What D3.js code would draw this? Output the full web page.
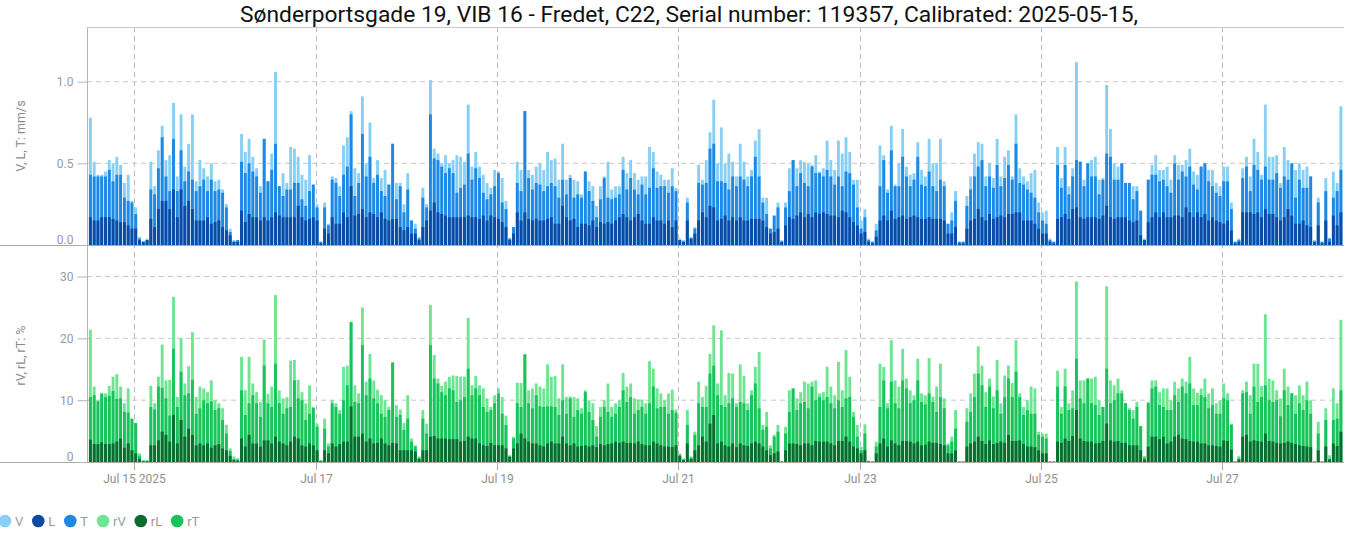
<!DOCTYPE html>
<html>
<head>
<meta charset="utf-8">
<script src="https://cdn.jsdelivr.net/npm/d3@7"></script>
<style>
  html, body { margin: 0; padding: 0; background: #fff; }
  svg { display: block; font-family: Roboto, "Noto Sans", "DejaVu Sans", sans-serif; }
</style>
</head>
<body>
<svg id="chart" width="1354" height="535"></svg>
<script>
// ---- chart text ----
const chartTitle = "Sønderportsgade 19, VIB 16 - Fredet, C22, Serial number: 119357, Calibrated: 2025-05-15,";
const topAxisTitle = "V, L, T: mm/s";
const bottomAxisTitle = "rV, rL, rT: %";

// ---- hourly readings, first reading 2025-07-14 12:00 ----
const firstReading = Date.UTC(2025, 6, 14, 12);

const V = [
  .78,.51,.43,.43,.45,.52,.50,.54,.49,.38,.43,.27,
  .23,.05,.02,.04,.51,.36,.58,.73,.52,.55,.87,.42,.80,.48,.62,.80,.39,.52,.47,.42,.50,.39,.40,.34,
  .25,.10,.03,.03,.68,.57,.65,.54,.47,.36,.65,.39,.56,1.06,.36,.44,.38,.60,.59,.54,.43,.40,.55,.37,
  .25,.02,.26,.13,.42,.41,.36,.61,.66,.82,.47,.44,.91,.50,.75,.41,.52,.41,.46,.37,.62,.38,.38,.25,
  .44,.15,.13,.05,.35,.25,1.01,.59,.56,.50,.55,.50,.52,.55,.54,.51,.86,.48,.57,.48,.43,.38,.35,.46,
  .45,.41,.27,.04,.11,.51,.46,.82,.46,.43,.48,.50,.46,.57,.52,.53,.40,.62,.40,.43,.40,.39,.31,.45,
  .39,.36,.24,.36,.42,.51,.34,.36,.36,.54,.44,.52,.44,.40,.42,.42,.60,.57,.45,.43,.40,.40,.47,.35,
  .04,.03,.29,.05,.11,.49,.40,.52,.69,.89,.50,.72,.50,.56,.51,.42,.62,.51,.42,.46,.64,.71,.29,.29,
  .10,.18,.26,.03,.26,.47,.52,.47,.52,.51,.50,.49,.55,.45,.47,.64,.52,.46,.64,.56,.66,.57,.40,.40,
  .15,.22,.04,.02,.13,.61,.55,.34,.73,.37,.50,.71,.48,.43,.44,.63,.46,.42,.65,.50,.50,.65,.39,.13,
  .20,.33,.02,.02,.30,.42,.56,.63,.62,.42,.50,.41,.65,.42,.54,.58,.42,.80,.47,.42,.39,.44,.46,.26,
  .20,.21,.04,.02,.60,.41,.60,.36,.47,1.12,.51,.40,.50,.52,.54,.40,.41,.98,.71,.50,.48,.50,.38,.38,
  .36,.36,.21,.04,.40,.49,.55,.46,.46,.48,.40,.55,.49,.49,.52,.59,.45,.43,.48,.50,.46,.46,.38,.36,
  .48,.48,.26,.02,.04,.47,.54,.42,.65,.57,.43,.86,.54,.54,.55,.38,.60,.52,.50,.46,.50,.46,.48,.42,
  .03,.29,.02,.41,.04,.45,.38,.85
];
const T = [
  .43,.42,.42,.42,.42,.46,.39,.43,.43,.29,.27,.26,
  .19,.04,.02,.03,.34,.31,.47,.66,.42,.33,.65,.33,.58,.39,.45,.40,.33,.36,.40,.33,.40,.33,.34,.32,
  .23,.08,.02,.03,.51,.44,.50,.45,.42,.32,.65,.39,.46,.62,.36,.30,.34,.34,.38,.38,.28,.24,.33,.37,
  .23,.02,.23,.12,.40,.38,.30,.43,.48,.80,.30,.38,.68,.42,.54,.38,.43,.33,.30,.37,.62,.28,.36,.20,
  .34,.15,.10,.04,.29,.23,.80,.53,.52,.48,.44,.47,.44,.32,.35,.37,.56,.40,.47,.41,.32,.28,.31,.36,
  .44,.26,.22,.04,.11,.38,.33,.82,.41,.34,.38,.37,.33,.36,.38,.36,.29,.40,.31,.41,.29,.31,.29,.45,
  .33,.27,.17,.28,.41,.29,.28,.29,.31,.46,.34,.41,.34,.31,.37,.31,.35,.47,.35,.36,.36,.32,.36,.33,
  .03,.02,.26,.04,.10,.38,.37,.38,.59,.62,.39,.39,.38,.34,.42,.36,.42,.40,.36,.42,.54,.42,.26,.19,
  .10,.18,.23,.02,.23,.33,.52,.36,.44,.38,.36,.48,.44,.44,.42,.46,.42,.37,.42,.36,.45,.44,.37,.23,
  .10,.17,.03,.02,.09,.36,.52,.32,.58,.36,.36,.54,.42,.36,.40,.54,.37,.36,.45,.36,.33,.40,.36,.13,
  .15,.27,.02,.02,.24,.34,.42,.48,.52,.36,.42,.35,.49,.36,.41,.49,.40,.62,.38,.37,.34,.32,.29,.20,
  .15,.13,.03,.02,.49,.35,.49,.31,.42,.52,.51,.36,.50,.42,.42,.31,.40,.56,.54,.40,.40,.50,.38,.38,
  .28,.33,.21,.03,.40,.43,.43,.39,.40,.36,.32,.50,.40,.45,.42,.48,.37,.34,.48,.50,.39,.36,.32,.30,
  .39,.39,.22,.02,.03,.41,.48,.33,.49,.46,.40,.48,.40,.40,.44,.35,.42,.40,.50,.29,.40,.35,.35,.42,
  .02,.26,.02,.33,.04,.29,.33,.46
];
const L = [
  .17,.15,.15,.17,.17,.17,.16,.15,.14,.14,.12,.10,
  .10,.03,.02,.03,.16,.11,.22,.27,.27,.22,.34,.17,.34,.24,.27,.22,.15,.15,.15,.17,.13,.14,.15,.11,
  .09,.06,.02,.02,.21,.14,.19,.17,.17,.15,.17,.15,.17,.20,.18,.17,.17,.17,.17,.24,.17,.15,.16,.17,
  .15,.01,.10,.07,.17,.13,.13,.20,.17,.36,.18,.19,.22,.17,.20,.19,.17,.20,.16,.15,.16,.16,.11,.09,
  .11,.07,.07,.03,.11,.15,.21,.26,.20,.19,.18,.17,.17,.17,.17,.17,.18,.17,.17,.16,.18,.15,.18,.17,
  .16,.14,.11,.03,.07,.20,.15,.20,.16,.15,.16,.15,.15,.16,.17,.13,.13,.24,.17,.15,.16,.11,.13,.13,
  .12,.15,.11,.14,.13,.14,.13,.15,.17,.19,.17,.15,.17,.19,.15,.13,.13,.17,.15,.15,.13,.15,.11,.15,
  .03,.02,.15,.04,.07,.15,.20,.17,.24,.23,.15,.16,.18,.15,.17,.15,.17,.15,.15,.16,.16,.16,.15,.11,
  .07,.08,.10,.02,.12,.17,.16,.18,.20,.17,.19,.17,.20,.19,.20,.19,.18,.18,.17,.21,.20,.17,.14,.12,
  .07,.08,.02,.01,.05,.15,.18,.15,.21,.16,.17,.18,.16,.17,.18,.17,.16,.16,.17,.16,.16,.16,.15,.07,
  .07,.11,.01,.01,.10,.15,.16,.22,.17,.15,.19,.16,.17,.18,.17,.19,.19,.20,.20,.15,.15,.15,.13,.10,
  .07,.07,.02,.01,.16,.17,.19,.16,.22,.23,.17,.16,.17,.17,.17,.16,.18,.24,.17,.16,.17,.17,.17,.15,
  .14,.15,.06,.03,.14,.17,.20,.17,.20,.17,.17,.18,.18,.17,.23,.20,.17,.20,.17,.19,.15,.17,.15,.14,
  .13,.15,.09,.01,.02,.20,.20,.20,.19,.20,.17,.22,.19,.19,.17,.15,.17,.22,.18,.13,.13,.15,.12,.11,
  .02,.12,.01,.15,.02,.18,.12,.20
];
const rV = [
  21.4,12.2,10.0,11.2,11.1,12.3,13.8,14.2,12.2,9.5,11.9,7.0,
  6.3,1.4,0.3,0.3,12.3,9.5,13.8,19.0,13.2,13.3,26.7,10.5,20.0,12.7,15.5,21.0,10.5,12.2,11.9,11.3,13.2,10.0,9.5,8.7,
  6.0,2.2,0.9,0.6,17.0,11.6,17.0,12.7,11.3,9.7,19.8,11.0,12.2,27.0,11.6,10.3,10.5,16.4,16.5,13.3,11.3,9.5,12.4,8.8,
  6.2,0.3,7.0,3.0,10.0,9.5,8.4,15.4,15.6,22.7,12.4,11.1,25.0,13.0,17.5,13.2,11.7,10.8,10.0,8.9,16.1,9.2,8.5,6.3,
  10.8,3.8,2.7,0.9,8.4,6.2,25.4,17.3,13.5,12.3,13.0,13.8,14.0,13.9,13.8,13.8,23.3,12.4,13.9,12.4,11.9,10.3,8.9,10.8,
  11.9,10.5,7.5,1.1,4.1,12.8,12.8,17.4,11.6,11.9,12.7,12.2,11.9,15.8,13.8,13.9,10.3,15.8,10.5,10.6,10.5,10.3,8.7,11.6,
  10.0,9.5,5.8,8.9,10.0,12.7,8.9,9.5,10.0,14.4,12.2,12.7,10.3,10.1,10.1,9.5,16.3,15.1,11.9,11.1,10.0,11.1,11.7,8.5,
  1.4,0.6,8.4,0.9,4.9,13.0,10.5,12.3,17.5,22.1,12.7,21.3,10.8,14.4,14.3,9.5,15.8,13.9,9.5,11.6,15.4,17.8,6.0,8.1,
  2.7,4.4,6.0,0.1,5.7,11.6,11.9,10.3,11.3,13.0,12.7,13.0,13.2,11.1,11.3,15.4,12.2,10.8,16.2,11.6,18.1,13.8,8.1,6.0,
  2.5,6.1,0.2,0.1,3.3,15.9,15.4,9.5,19.7,13.2,12.2,18.3,13.5,11.6,10.8,16.7,11.1,10.8,16.8,10.6,12.2,15.9,10.3,3.0,
  4.1,8.4,0.1,0.1,8.7,11.1,14.3,18.7,15.6,11.3,13.5,10.6,16.5,9.5,14.0,15.6,12.8,19.7,11.1,8.9,10.0,12.2,11.9,4.9,
  4.6,4.6,0.1,0.1,14.8,8.9,15.1,9.5,11.6,29.2,13.2,13.2,13.5,13.5,13.8,10.0,8.9,28.4,13.2,12.4,13.5,11.6,9.5,8.7,
  8.4,9.7,5.8,1.0,9.7,13.2,13.2,11.3,11.9,11.9,10.0,13.0,11.9,13.5,13.0,17.0,11.9,11.2,11.9,13.5,11.1,11.9,9.5,10.0,
  12.7,11.1,6.2,0.1,1.0,11.6,13.0,10.8,15.9,15.9,12.3,23.9,13.5,13.2,11.6,10.3,15.1,12.2,11.1,10.8,12.4,10.8,13.0,10.0,
  0.1,6.5,0.1,8.7,1.1,11.9,9.5,23.0
];
const rT = [
  10.5,10.8,9.8,11.0,10.5,10.7,11.5,10.2,10.3,8.1,8.0,7.0,
  6.3,1.0,0.2,0.2,8.9,8.5,12.2,12.0,10.3,7.5,18.3,8.9,14.6,10.8,11.1,13.3,7.8,8.7,10.0,9.5,9.8,8.4,8.7,6.8,
  4.6,1.8,0.5,0.4,11.6,7.6,9.5,10.8,9.5,7.3,15.6,9.5,8.9,15.9,9.5,7.8,8.7,8.9,13.2,10.3,10.0,6.8,7.8,8.8,
  5.7,0.2,5.4,2.5,9.5,8.9,7.8,10.0,12.4,22.6,9.7,9.5,18.9,10.8,13.5,10.3,9.5,7.8,7.3,8.4,16.1,7.3,7.6,5.2,
  7.0,3.3,2.5,0.7,7.0,4.6,18.9,13.5,12.7,11.3,10.8,11.9,11.6,9.7,10.0,10.5,15.1,10.8,11.9,10.8,8.9,8.1,8.4,9.5,
  11.1,7.8,6.0,1.0,3.8,9.5,8.9,17.4,9.5,8.7,10.8,9.0,8.9,9.0,9.0,8.9,7.6,10.0,7.8,10.3,7.3,8.4,7.8,11.3,
  8.1,6.8,4.1,7.3,8.9,8.1,7.3,7.8,8.9,11.6,9.7,10.5,7.8,8.4,8.9,7.8,9.5,12.2,8.7,8.9,8.9,7.8,8.4,8.0,
  1.1,0.4,6.0,0.7,4.4,9.5,8.9,8.9,14.3,15.6,10.8,9.2,8.9,9.5,10.3,8.9,9.7,9.5,8.4,10.8,12.7,8.7,5.2,5.7,
  2.2,4.1,4.9,0.1,4.6,8.1,11.9,8.4,9.5,9.7,8.7,12.2,10.0,10.5,10.0,10.5,9.5,8.7,10.0,8.9,10.3,10.5,7.3,4.1,
  1.9,4.6,0.1,0.05,2.5,8.9,13.2,8.7,13.0,9.5,8.7,13.2,11.9,9.5,10.0,13.2,9.7,9.3,11.1,9.7,8.1,10.5,8.7,2.7,
  3.3,5.4,0.05,0.05,6.5,8.1,10.5,14.3,12.4,8.9,12.2,8.7,11.6,7.8,10.5,13.5,10.5,14.6,10.5,7.6,8.4,7.8,7.8,4.4,
  4.1,3.8,0.05,0.05,12.2,7.8,12.2,8.4,8.7,16.7,10.3,9.5,13.5,9.5,9.2,7.6,8.9,15.1,9.5,10.0,11.1,11.1,9.5,8.4,
  7.0,8.9,5.8,0.7,9.5,11.9,12.2,9.2,8.9,8.4,8.4,10.8,9.7,12.2,11.1,12.7,9.2,9.2,10.8,10.5,8.7,9.2,7.8,7.8,
  10.3,10.0,6.0,0.05,0.6,11.1,11.3,7.8,12.2,9.7,10.5,12.4,10.0,9.7,10.0,7.4,11.6,9.2,11.1,7.8,9.5,8.4,10.0,7.8,
  0.05,4.6,0.05,6.8,0.5,6.8,7.0,11.6
];
const rL = [
  3.6,2.9,2.9,3.2,2.9,2.9,3.0,3.3,3.8,2.3,3.0,1.9,
  1.4,0.5,0.1,0.1,2.7,2.7,3.5,4.9,4.4,3.3,7.6,3.0,6.8,4.1,5.4,4.4,2.7,3.0,2.7,3.0,2.3,2.7,2.9,2.2,
  1.9,1.0,0.3,0.2,3.8,2.5,4.4,3.0,3.0,2.5,3.5,3.5,3.0,4.1,3.3,3.0,2.7,3.3,4.1,3.8,2.7,2.5,3.0,2.7,
  1.9,0.1,1.9,1.4,3.0,2.5,2.9,3.3,3.3,9.0,4.1,4.1,4.6,3.3,3.8,3.0,3.1,3.8,3.0,2.7,3.1,3.0,1.9,1.9,
  1.9,1.9,1.7,0.5,1.9,1.9,4.1,4.2,3.8,3.8,3.8,3.7,3.7,3.7,3.3,3.4,4.1,3.8,3.8,3.0,2.7,2.6,3.1,2.7,
  2.7,2.7,2.2,0.8,2.2,3.0,4.6,3.8,3.3,3.0,3.0,2.7,2.5,3.0,3.3,3.0,3.0,4.1,3.0,2.7,3.0,2.5,2.6,2.7,
  2.5,2.7,2.4,2.9,2.7,2.9,3.0,3.3,3.1,3.3,3.1,3.1,3.0,3.3,2.9,2.7,2.7,3.3,3.0,2.7,2.5,2.5,2.4,2.7,
  1.0,0.3,3.0,0.5,1.9,2.7,4.1,3.3,6.2,7.6,3.0,3.3,2.7,2.5,3.0,2.4,3.0,2.7,2.6,3.0,3.3,3.0,2.5,1.9,
  1.1,1.4,1.7,0.05,1.9,3.0,3.0,2.9,2.7,3.0,3.0,2.7,3.4,3.3,3.3,3.3,3.0,2.7,3.4,3.4,4.1,3.3,2.5,2.2,
  1.4,1.9,0.1,0.05,1.4,3.0,3.8,2.5,3.5,3.0,2.7,3.4,3.4,3.3,3.0,3.3,2.7,2.8,3.3,3.1,3.1,2.9,2.7,1.4,
  1.4,1.9,0.05,0.05,2.5,3.0,3.3,4.1,3.4,2.9,3.5,2.9,3.1,3.3,3.1,4.4,3.4,3.4,3.5,2.9,2.5,2.5,2.4,1.9,
  1.4,1.4,0.05,0.05,3.3,3.1,3.8,3.4,4.2,8.4,3.8,3.4,3.3,3.3,3.0,3.1,3.4,6.2,3.5,3.3,3.4,3.1,3.1,2.7,
  2.7,2.7,1.9,0.4,2.5,4.1,4.1,3.7,4.1,3.0,3.3,4.1,4.4,3.8,3.7,3.4,3.3,3.3,3.0,3.0,2.7,2.7,2.6,2.5,
  3.5,3.4,2.0,0.05,0.4,4.1,4.4,3.3,3.5,3.4,3.3,4.6,3.4,3.3,3.1,3.0,3.1,3.3,3.1,2.9,2.7,2.6,2.5,2.4,
  0.05,1.9,0.05,2.5,0.4,3.0,2.6,4.9
];

// ---- axes ----
const topTicks = [0, 0.5, 1.0];
const bottomTicks = [0, 10, 20, 30];
const xTickDays = ["2025-07-15", "2025-07-17", "2025-07-19", "2025-07-21", "2025-07-23", "2025-07-25", "2025-07-27"];
const xTickLabels = ["Jul 15 2025", "Jul 17", "Jul 19", "Jul 21", "Jul 23", "Jul 25", "Jul 27"];

// ---- legend ----
const legendNames = ["V", "L", "T", "rV", "rL", "rT"];
const seriesColor = {
  V: "#88cff5", L: "#0d4aa6", T: "#1e88e5",
  rV: "#6de592", rL: "#0b6b30", rT: "#18c35c"
};

// ---------------------------------------------------------------
const svg = d3.select("#chart");
const plotLeft = 87, plotRight = 1344;
const topPanel = { top: 27, bottom: 245 };
const botPanel = { top: 245, bottom: 462 };

const x = d3.scaleUtc()
  .domain([new Date(Date.UTC(2025, 6, 14, 11, 29)), new Date(Date.UTC(2025, 6, 28, 8, 12))])
  .range([plotLeft, plotRight]);
const yTop = d3.scaleLinear().domain([0, 1.335]).range([topPanel.bottom, topPanel.top]);
const yBot = d3.scaleLinear().domain([0, 35.1]).range([botPanel.bottom, botPanel.top]);

const hour = 3600 * 1000;
const times = V.map((_, i) => new Date(firstReading + i * hour));
const step = x(new Date(firstReading + hour)) - x(new Date(firstReading));
const barW = step - 0.9;

const grid = svg.append("g");

// horizontal dashed gridlines
topTicks.filter(v => v > 0).forEach(v => {
  grid.append("line").attr("x1", plotLeft).attr("x2", plotRight)
    .attr("y1", yTop(v)).attr("y2", yTop(v))
    .attr("stroke", "#c8c8c8").attr("stroke-dasharray", "5,4");
});
bottomTicks.filter(v => v > 0).forEach(v => {
  grid.append("line").attr("x1", plotLeft).attr("x2", plotRight)
    .attr("y1", yBot(v)).attr("y2", yBot(v))
    .attr("stroke", "#c8c8c8").attr("stroke-dasharray", "5,4");
});

// vertical day gridlines every second day
const tickDates = xTickDays.map(d => new Date(d + "T00:00:00Z"));
tickDates.forEach(d => {
  const xx = Math.round(x(d)) + 0.5;
  grid.append("line").attr("x1", xx).attr("x2", xx)
    .attr("y1", topPanel.top).attr("y2", botPanel.bottom)
    .attr("stroke", "#bdbdbd").attr("stroke-dasharray", "5,4");
  grid.append("line").attr("x1", xx).attr("x2", xx)
    .attr("y1", botPanel.bottom).attr("y2", botPanel.bottom + 8)
    .attr("stroke", "#aaa");
});

// bars: each hour's three components overlaid, largest behind
function drawBars(keys, series, y) {
  const g = svg.append("g");
  const rows = [];
  times.forEach((t, i) => {
    const items = keys.map((k, j) => ({ k, v: series[j][i], t }));
    items.sort((a, b) => b.v - a.v);
    items.forEach(it => rows.push(it));
  });
  g.selectAll("rect").data(rows).join("rect")
    .attr("x", d => x(d.t))
    .attr("width", barW)
    .attr("y", d => y(d.v))
    .attr("height", d => y(0) - y(d.v))
    .attr("fill", d => seriesColor[d.k]);
}
drawBars(["V", "T", "L"], [V, T, L], yTop);
drawBars(["rV", "rT", "rL"], [rV, rT, rL], yBot);

// frame and baselines
const frame = svg.append("g");
frame.append("line").attr("x1", plotLeft).attr("x2", plotRight)
  .attr("y1", topPanel.top + 0.5).attr("y2", topPanel.top + 0.5).attr("stroke", "#c8c8c8");
frame.append("line").attr("x1", plotLeft + 0.5).attr("x2", plotLeft + 0.5)
  .attr("y1", topPanel.top).attr("y2", botPanel.bottom).attr("stroke", "#b5b5b5");
[topPanel.bottom, botPanel.bottom].forEach(yy => {
  frame.append("line").attr("x1", 0).attr("x2", plotRight)
    .attr("y1", yy + 0.5).attr("y2", yy + 0.5).attr("stroke", "#a8a8a8");
});

// y axes
function yAxis(scale, ticks, fmt) {
  const g = svg.append("g").attr("transform", `translate(${plotLeft + 0.5},0)`);
  const axis = d3.axisLeft(scale).tickValues(ticks).tickFormat(fmt)
    .tickSize(10).tickPadding(4).tickSizeOuter(0);
  g.call(axis);
  g.select(".domain").remove();
  g.selectAll(".tick line").attr("stroke", "#b5b5b5");
  g.selectAll(".tick text")
    .attr("fill", "#9a9a9a").style("font-size", "12px")
    .style("font-family", "Roboto, sans-serif")
    .attr("dy", d => d === 0 ? "-0.15em" : "0.32em");
}
yAxis(yTop, topTicks, d3.format(".1f"));
yAxis(yBot, bottomTicks, d3.format("d"));

// axis titles, centred on their panels
svg.append("text")
  .attr("transform", `translate(25,${(topPanel.top + topPanel.bottom) / 2}) rotate(-90)`)
  .attr("text-anchor", "middle").attr("fill", "#8a8a8a").style("font-size", "12.5px")
  .text(topAxisTitle);
svg.append("text")
  .attr("transform", `translate(25,${(botPanel.top + botPanel.bottom) / 2 + 2}) rotate(-90)`)
  .attr("text-anchor", "middle").attr("fill", "#8a8a8a").style("font-size", "12.5px")
  .text(bottomAxisTitle);

// x tick labels
tickDates.forEach((d, i) => {
  svg.append("text")
    .attr("x", Math.round(x(d)) + 0.5).attr("y", 483)
    .attr("text-anchor", "middle").attr("fill", "#8f8f8f").style("font-size", "12px")
    .text(xTickLabels[i]);
});

// title, fitted to its span
const titleEl = svg.append("text")
  .attr("x", 689).attr("y", 22).attr("text-anchor", "middle")
  .attr("fill", "#111").style("font-size", "18px")
  .text(chartTitle);
const tw = titleEl.node().getComputedTextLength();
titleEl.style("font-size", (18 * 898 / tw).toFixed(2) + "px");

// legend
const legend = svg.append("g").attr("transform", "translate(0,521)");
let cx = 5;
legendNames.forEach(name => {
  legend.append("circle").attr("cx", cx).attr("cy", 0).attr("r", 6.3).attr("fill", seriesColor[name]);
  const t = legend.append("text").attr("x", cx + 10).attr("y", 4.6)
    .attr("fill", "#9a9a9a").style("font-size", "13px").text(name);
  cx += 10 + t.node().getComputedTextLength() + 15;
});
</script>
</body>
</html>
